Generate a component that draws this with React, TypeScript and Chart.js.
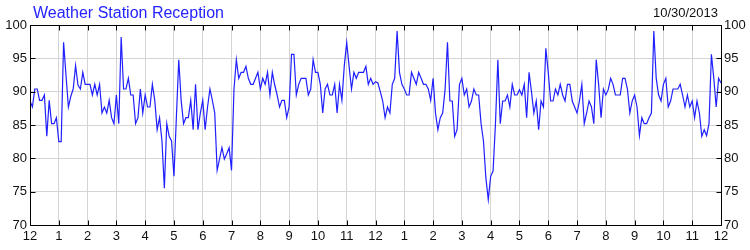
import React, { useEffect, useRef } from "react";
import { Chart, registerables } from "chart.js";

Chart.register(...registerables);

const chartTitle = "Weather Station Reception";
const chartDate = "10/30/2013";

// hour tick labels, one every 12 samples (5-minute samples)
const tickLabels = [
  "12", "1", "2", "3", "4", "5", "6", "7", "8", "9", "10", "11",
  "12", "1", "2", "3", "4", "5", "6", "7", "8", "9", "10", "11", "12",
];

const yTicks = [70, 75, 80, 85, 90, 95, 100];

// midnight to noon (5-minute samples)
const amValues = [
  88.6, 87.7, 90.4, 90.4, 88.7, 88.7, 89.5, 83.3, 88.7, 85.2, 85.2, 86.1,
  82.5, 82.5, 97.4, 92.5, 87.7, 89.3, 90.4, 93.9, 91.0, 90.4, 92.9, 91.1,
  91.1, 91.1, 89.5, 91.1, 89.5, 91.1, 86.8, 87.7, 86.8, 88.7, 86.1, 85.2,
  89.5, 85.2, 98.2, 90.4, 90.4, 92.0, 89.5, 89.5, 85.2, 86.1, 90.4, 86.8,
  89.5, 87.7, 87.7, 91.1, 88.7, 84.3, 86.1, 82.6, 75.5, 85.2, 83.3, 82.6,
  77.3, 86.1, 94.8, 88.7, 85.2, 86.1, 86.1, 88.7, 84.3, 91.1, 84.3, 86.8,
  88.7, 84.3, 87.7, 90.4, 88.7, 86.8, 78.2, 79.9, 81.6, 79.9, 80.7, 81.6,
  78.2, 90.3, 94.8, 92.0, 92.9, 92.9, 93.8, 92.0, 91.1, 91.1, 92.0, 92.9,
  90.4, 92.0, 91.1, 92.9, 89.5, 92.9, 91.0, 89.5, 87.7, 88.7, 88.7, 86.1,
  87.7, 95.6, 95.6, 89.5, 91.1, 92.0, 92.0, 92.0, 89.5, 90.4, 94.8, 92.9,
  92.9, 91.1, 86.8, 90.4, 91.1, 89.5, 89.5, 91.1, 86.8, 91.1, 88.7, 93.9,
  97.4, 93.8, 90.4, 92.9, 92.0, 92.9, 92.9, 92.9, 93.8, 91.1, 92.0, 91.1,
];

// noon to midnight (5-minute samples, including final midnight sample)
const pmValues = [
  91.5, 91.3, 90.0, 88.6, 86.1, 87.7, 86.8, 91.1, 92.0, 99.1, 92.9, 91.1,
  90.4, 89.5, 89.5, 92.9, 92.0, 91.1, 92.9, 92.0, 91.1, 91.1, 90.4, 88.7,
  92.0, 86.8, 84.3, 86.1, 86.8, 90.3, 97.4, 88.6, 88.6, 83.3, 84.3, 91.1,
  92.0, 89.5, 90.4, 87.7, 88.6, 90.4, 89.5, 89.5, 85.2, 82.6, 77.1, 73.8,
  77.3, 78.1, 85.2, 94.8, 85.2, 88.6, 88.6, 89.5, 87.7, 91.1, 89.5, 89.5,
  90.3, 89.5, 91.1, 86.1, 92.9, 90.0, 86.8, 88.6, 84.3, 88.6, 87.7, 96.5,
  92.9, 88.6, 88.6, 90.4, 89.5, 91.1, 89.5, 88.6, 91.1, 91.1, 88.6, 87.7,
  86.8, 88.6, 91.1, 85.2, 86.8, 88.6, 87.7, 85.2, 94.8, 91.1, 86.1, 90.4,
  89.5, 90.3, 92.0, 91.1, 89.5, 89.5, 89.5, 92.0, 92.0, 90.4, 86.8, 88.6,
  89.5, 87.7, 83.4, 86.1, 85.2, 85.2, 86.1, 86.8, 99.1, 92.0, 89.5, 88.6,
  91.1, 92.0, 87.7, 88.6, 90.4, 90.4, 90.4, 91.1, 89.5, 87.7, 89.5, 87.7,
  88.6, 86.1, 88.6, 86.8, 83.3, 84.3, 83.4, 85.2, 95.6, 92.0, 87.7, 92.0,
  91.3,
];

const FONT = "Arial, 'Liberation Sans', sans-serif";

const framePlugin = {
  id: "frameAndText",
  afterDraw(chart: any) {
    const ctx = chart.ctx;
    const { left, right, top, bottom } = chart.chartArea;
    const xs = chart.scales.x;
    const ys = chart.scales.y;
    ctx.save();
    ctx.strokeStyle = "#000";
    ctx.lineWidth = 1;
    ctx.beginPath();
    const L = Math.round(left) + 0.5;
    const R = Math.round(right) + 0.5;
    const T = Math.round(top) + 0.5;
    const B = Math.round(bottom) + 0.5;
    ctx.rect(L, T, R - L, B - T);
    const tl = 5;
    xs.ticks.forEach((t: any) => {
      const px = Math.round(xs.getPixelForValue(t.value)) + 0.5;
      ctx.moveTo(px, B);
      ctx.lineTo(px, B - tl);
      ctx.moveTo(px, T);
      ctx.lineTo(px, T + tl);
    });
    ys.ticks.forEach((t: any) => {
      const py = Math.round(ys.getPixelForValue(t.value)) + 0.5;
      ctx.moveTo(L, py);
      ctx.lineTo(L + tl, py);
      ctx.moveTo(R, py);
      ctx.lineTo(R - tl, py);
    });
    ctx.stroke();

    ctx.textBaseline = "alphabetic";
    ctx.fillStyle = "#2424ff";
    ctx.font = `16px ${FONT}`;
    ctx.textAlign = "left";
    ctx.fillText(chartTitle, 33, 18);
    ctx.fillStyle = "#111";
    ctx.font = `13px ${FONT}`;
    ctx.textAlign = "right";
    ctx.fillText(chartDate, 718, 17);
    ctx.restore();
  },
};

export default function App() {
  const ref = useRef<HTMLCanvasElement | null>(null);

  useEffect(() => {
    document.body.style.margin = "0";
    const canvas = ref.current;
    if (!canvas) return;
    const all = amValues.concat(pmValues);
    const points = all.map((v, i) => ({ x: i, y: v }));
    const tickFont = { family: FONT, size: 13 };
    const chart = new Chart(canvas, {
      type: "line",
      data: {
        datasets: [
          {
            data: points,
            borderColor: "#2020ff",
            borderWidth: 1.2,
            pointRadius: 0,
            tension: 0,
            fill: false,
          },
        ],
      },
      options: {
        animation: false,
        responsive: false,
        events: [],
        layout: { padding: { top: 25, left: 0, right: 0, bottom: 0 } },
        plugins: {
          legend: { display: false },
          title: { display: false },
          tooltip: { enabled: false },
        },
        scales: {
          x: {
            type: "linear",
            min: 0,
            max: (tickLabels.length - 1) * 12,
            grid: { color: "#d4d4d4", drawTicks: false, lineWidth: 1 },
            border: { display: false },
            ticks: {
              stepSize: 12,
              autoSkip: false,
              maxRotation: 0,
              padding: 4,
              color: "#111",
              font: tickFont,
              callback: (v: any) => tickLabels[Math.round(Number(v) / 12)] ?? "",
            },
            afterFit: (s: any) => {
              s.height = 25;
            },
          },
          y: {
            position: "left",
            min: yTicks[0],
            max: yTicks[yTicks.length - 1],
            grid: { color: "#d4d4d4", drawTicks: false, lineWidth: 1 },
            border: { display: false },
            ticks: { stepSize: 5, padding: 3, color: "#111", font: tickFont },
            afterFit: (s: any) => {
              s.width = 30;
            },
          },
          y2: {
            position: "right",
            min: yTicks[0],
            max: yTicks[yTicks.length - 1],
            grid: { display: false, drawTicks: false },
            border: { display: false },
            ticks: { stepSize: 5, padding: 3, color: "#111", font: tickFont },
            afterFit: (s: any) => {
              s.width = 29;
            },
          },
        },
      },
      plugins: [framePlugin],
    } as any);
    return () => chart.destroy();
  }, []);

  return (
    <div style={{ position: "absolute", left: 0, top: 0, width: 750, height: 250 }}>
      <canvas ref={ref} width={750} height={250} style={{ display: "block", width: 750, height: 250 }} />
    </div>
  );
}
